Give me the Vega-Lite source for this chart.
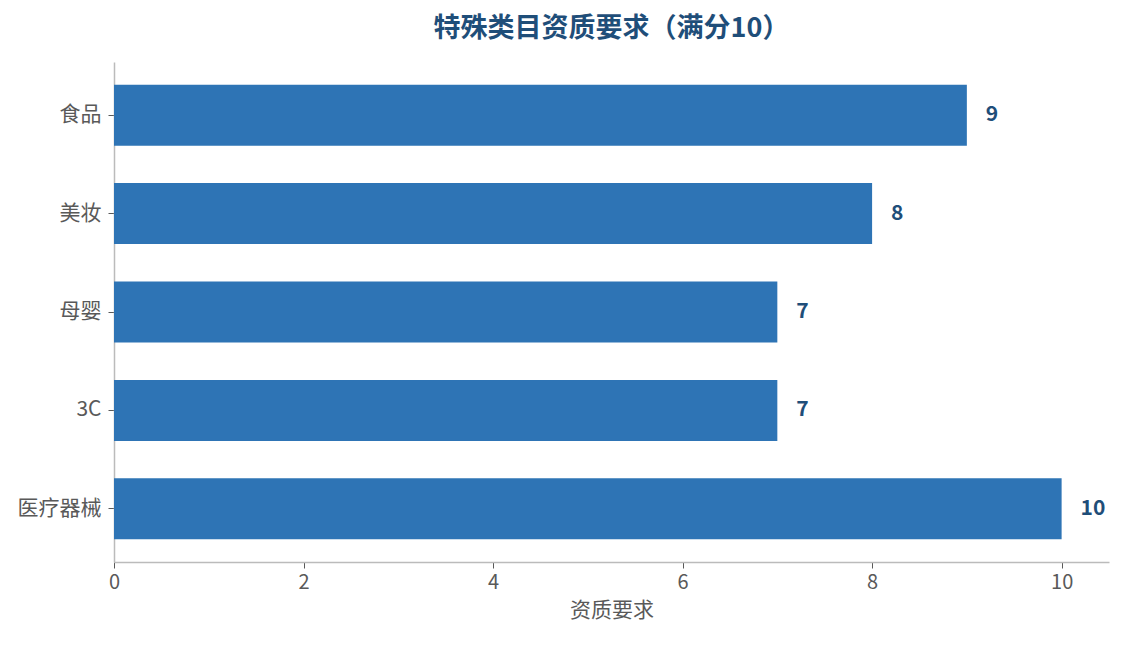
{
  "$schema": "https://vega.github.io/schema/vega-lite/v6.json",
  "width": 995,
  "height": 500,
  "autosize": {"type": "none"},
  "padding": {"left": 114, "top": 62, "right": 15, "bottom": 83},
  "background": "white",
  "title": {
    "text": "特殊类目资质要求（满分10）",
    "font": "Noto Sans CJK SC",
    "fontSize": 27,
    "fontWeight": "bold",
    "color": "#1f4e79",
    "anchor": "middle",
    "dx": 0,
    "offset": 19
  },
  "config": {
    "view": {"stroke": null},
    "font": "Noto Sans CJK SC"
  },
  "data": {
    "values": [
      {"category": "食品", "score": 9},
      {"category": "美妆", "score": 8},
      {"category": "母婴", "score": 7},
      {"category": "3C", "score": 7},
      {"category": "医疗器械", "score": 10}
    ]
  },
  "encoding": {
    "y": {
      "field": "category",
      "type": "nominal",
      "sort": null,
      "scale": {"paddingInner": 0.38, "paddingOuter": 0.23},
      "axis": {
        "title": null,
        "labelFont": "Noto Sans CJK SC",
        "labelFontSize": 21,
        "labelColor": "#595959",
        "labelPadding": 7,
        "tickColor": "#595959",
        "tickSize": 6,
        "domainColor": "#bbbbbb",
        "domainWidth": 1.5
      }
    },
    "x": {
      "field": "score",
      "type": "quantitative",
      "scale": {"domain": [0, 10.5], "nice": false},
      "axis": {
        "title": "资质要求",
        "titleFont": "Noto Sans CJK SC",
        "titleFontSize": 21,
        "titleFontWeight": "normal",
        "titleColor": "#595959",
        "titlePadding": 7,
        "values": [0, 2, 4, 6, 8, 10],
        "grid": false,
        "labelFlush": false,
        "labelFontSize": 20,
        "labelColor": "#595959",
        "labelPadding": 4,
        "tickColor": "#595959",
        "tickSize": 6,
        "domainColor": "#bbbbbb",
        "domainWidth": 1.5
      }
    }
  },
  "layer": [
    {
      "mark": {"type": "bar", "color": "#2e74b5"}
    },
    {
      "mark": {
        "type": "text",
        "align": "left",
        "baseline": "middle",
        "dx": 19,
        "fontSize": 21,
        "fontWeight": "bold",
        "color": "#1f4e79"
      },
      "encoding": {"text": {"field": "score", "type": "quantitative"}}
    }
  ]
}
